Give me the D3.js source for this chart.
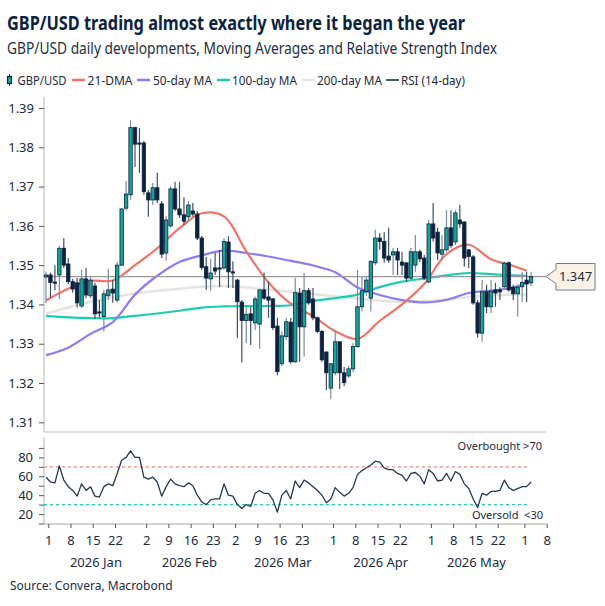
<!DOCTYPE html>
<html><head><meta charset="utf-8">
<script src="https://cdn.jsdelivr.net/npm/d3@7"></script>
<style>
body{margin:0;background:#fff}
svg{display:block}
text{font-family:"Noto Sans","Open Sans",sans-serif}
</style>
</head><body>
<svg id="c" width="605" height="606"></svg>
<script>
// ---------------- DATA ----------------
const startDate = "2026-01-01";           // first trading day (index 0)
const openP = [
1.3470,1.3475,1.3457,1.3475,1.3543,1.3503,1.3458,1.3455,1.3396,1.3465,
1.3422,1.3447,1.3381,1.3369,1.3422,1.3439,1.3411,1.3500,1.3645,1.3679,
1.3850,1.3811,1.3811,1.3684,1.3666,1.3697,1.3656,1.3531,1.3600,1.3694,
1.3643,1.3628,1.3623,1.3638,1.3630,1.3569,1.3496,1.3465,1.3493,1.3493,
1.3493,1.3559,1.3483,1.3462,1.3406,1.3359,1.3376,1.3353,1.3350,1.3437,
1.3419,1.3414,1.3345,1.3249,1.3318,1.3355,1.3254,1.3429,1.3343,1.3435,
1.3414,1.3366,1.3331,1.3279,1.3187,1.3226,1.3305,1.3226,1.3218,1.3236,
1.3293,1.3394,1.3433,1.3416,1.3506,1.3569,1.3560,1.3523,1.3526,1.3534,
1.3508,1.3506,1.3467,1.3500,1.3534,1.3518,1.3457,1.3605,1.3584,1.3528,
1.3539,1.3595,1.3559,1.3615,1.3610,1.3539,1.3521,1.3404,1.3327,1.3432,
1.3394,1.3437,1.3437,1.3445,1.3506,1.3444,1.3427,1.3445,1.3462,1.3455];
const highP = [
1.3484,1.3481,1.3500,1.3549,1.3569,1.3518,1.3465,1.3467,1.3488,1.3493,
1.3470,1.3455,1.3411,1.3437,1.3490,1.3462,1.3508,1.3645,1.3714,1.3869,
1.3852,1.3849,1.3816,1.3691,1.3709,1.3735,1.3663,1.3625,1.3701,1.3712,
1.3712,1.3673,1.3663,1.3658,1.3638,1.3574,1.3521,1.3516,1.3531,1.3539,
1.3569,1.3574,1.3509,1.3465,1.3411,1.3394,1.3394,1.3420,1.3439,1.3481,
1.3458,1.3416,1.3366,1.3331,1.3366,1.3366,1.3467,1.3442,1.3480,1.3442,
1.3442,1.3369,1.3335,1.3280,1.3251,1.3335,1.3305,1.3241,1.3243,1.3302,
1.3488,1.3470,1.3472,1.3513,1.3590,1.3582,1.3584,1.3595,1.3544,1.3544,
1.3534,1.3506,1.3544,1.3577,1.3539,1.3526,1.3615,1.3658,1.3595,1.3577,
1.3640,1.3640,1.3640,1.3653,1.3611,1.3539,1.3526,1.3411,1.3462,1.3450,
1.3462,1.3455,1.3444,1.3509,1.3509,1.3450,1.3450,1.3483,1.3483,1.3483];
const lowP = [
1.3403,1.3417,1.3437,1.3414,1.3493,1.3452,1.3430,1.3392,1.3391,1.3416,
1.3416,1.3363,1.3366,1.3331,1.3411,1.3404,1.3404,1.3498,1.3640,1.3666,
1.3750,1.3735,1.3679,1.3623,1.3653,1.3658,1.3518,1.3511,1.3595,1.3638,
1.3620,1.3602,1.3610,1.3623,1.3564,1.3488,1.3437,1.3435,1.3475,1.3444,
1.3488,1.3442,1.3442,1.3315,1.3252,1.3302,1.3297,1.3335,1.3287,1.3411,
1.3366,1.3335,1.3220,1.3243,1.3310,1.3249,1.3251,1.3254,1.3267,1.3399,
1.3360,1.3327,1.3254,1.3182,1.3159,1.3220,1.3185,1.3192,1.3213,1.3228,
1.3289,1.3382,1.3422,1.3382,1.3500,1.3539,1.3506,1.3506,1.3475,1.3475,
1.3475,1.3457,1.3462,1.3483,1.3508,1.3462,1.3455,1.3560,1.3513,1.3513,
1.3534,1.3544,1.3551,1.3595,1.3496,1.3493,1.3399,1.3315,1.3305,1.3378,
1.3378,1.3394,1.3411,1.3437,1.3432,1.3411,1.3369,1.3407,1.3406,1.3447];
const closeP = [
1.3475,1.3456,1.3456,1.3543,1.3500,1.3458,1.3439,1.3404,1.3465,1.3424,
1.3462,1.3376,1.3380,1.3427,1.3437,1.3429,1.3500,1.3643,1.3681,1.3850,
1.3808,1.3808,1.3687,1.3666,1.3697,1.3666,1.3528,1.3615,1.3694,1.3643,
1.3628,1.3612,1.3653,1.3630,1.3569,1.3494,1.3467,1.3480,1.3485,1.3492,
1.3560,1.3483,1.3481,1.3407,1.3359,1.3375,1.3359,1.3414,1.3437,1.3416,
1.3411,1.3341,1.3229,1.3320,1.3356,1.3254,1.3430,1.3343,1.3435,1.3404,
1.3366,1.3331,1.3259,1.3226,1.3249,1.3305,1.3226,1.3201,1.3236,1.3293,
1.3394,1.3435,1.3462,1.3509,1.3569,1.3560,1.3518,1.3513,1.3534,1.3513,
1.3500,1.3467,1.3534,1.3534,1.3516,1.3467,1.3605,1.3569,1.3531,1.3539,
1.3595,1.3550,1.3633,1.3605,1.3518,1.3522,1.3404,1.3327,1.3432,1.3394,
1.3434,1.3429,1.3432,1.3505,1.3437,1.3427,1.3444,1.3456,1.3452,1.3471];

// moving averages, read at these trading-day indices
const maIdx  = [0,5,10,15,20,25,30,35,40,45,50,55,60,65,70,75,80,85,90,95,100,105,108];
const ma21   = [1.3410,1.3440,1.3460,1.3461,1.3500,1.3543,1.3594,1.3632,1.3624,1.3535,1.3456,1.3402,1.3370,1.3332,1.3312,1.3358,1.3400,1.3452,1.3528,1.3552,1.3515,1.3498,1.3486];
const ma50   = [1.3271,1.3290,1.3325,1.3355,1.3425,1.3473,1.3508,1.3525,1.3537,1.3531,1.3522,1.3511,1.3499,1.3482,1.3443,1.3424,1.3411,1.3405,1.3412,1.3429,1.3435,1.3443,1.3456];
const ma100  = [1.3371,1.3367,1.3365,1.3365,1.3371,1.3377,1.3384,1.3392,1.3395,1.3396,1.3396,1.3398,1.3409,1.3416,1.3425,1.3444,1.3458,1.3466,1.3474,1.3480,1.3477,1.3474,1.3473];
const ma200  = [1.3376,1.3392,1.3407,1.3418,1.3428,1.3435,1.3440,1.3445,1.3447,1.3443,1.3438,1.3432,1.3426,1.3421,1.3415,1.3410,1.3407,1.3409,1.3412,1.3419,1.3423,1.3425,1.3425];

const rsi = [
59,54,53,71,56,49,45,39,52,45,
49,39,38,49,52,50,63,77,80,87,
80,80,59,57,59,54,39,49,57,52,
50,49,53,50,40,33,30,35,36,36,
52,40,39,30,26,30,28,42,45,42,
42,35,22,40,45,36,55,48,56,53,
49,45,40,32,36,48,43,39,42,48,
62,66,69,72,76,75,69,67,67,63,
61,55,63,64,60,52,67,63,55,56,
63,55,65,62,52,47,36,27,42,40,
44,44,45,56,48,45,47,49,49,54];

const priceTicks = [1.31,1.32,1.33,1.34,1.35,1.36,1.37,1.38,1.39];
const rsiTicks = [10,20,30,40,50,60,70,80,90];
const rsiLabelTicks = [20,40,60,80];
const dayTickDates = ["2026-01-01","2026-01-08","2026-01-15","2026-01-22","2026-02-02","2026-02-09","2026-02-16","2026-02-23",
  "2026-03-02","2026-03-09","2026-03-16","2026-03-23","2026-04-01","2026-04-08","2026-04-15","2026-04-22",
  "2026-05-01","2026-05-08","2026-05-15","2026-05-22","2026-06-01","2026-06-08"];
const monthStarts = ["2026-01-01","2026-02-02","2026-03-02","2026-04-01","2026-05-01","2026-06-01"];
const monthLabels = ["2026 Jan","2026 Feb","2026 Mar","2026 Apr","2026 May"];
const overbought = 70, oversold = 30;

// ---------------- HELPERS ----------------
const parse = d3.utcParse("%Y-%m-%d");
function bizIndex(s){
  const t0 = parse(startDate), t1 = parse(s);
  let n = 0;
  for (let d = new Date(t0); d < t1; d.setUTCDate(d.getUTCDate()+1)){
    const w = d.getUTCDay(); if (w !== 0 && w !== 6) n++;
  }
  return n;
}

const NAVY = "#0c2340", TEAL = "#17a599", TXT = "#1b2a41";
const C21 = "#ef7366", C50 = "#8b7cf2", C100 = "#1ecbb0", C200 = "#e4e4e4";

const svg = d3.select("#c");
const x  = d3.scaleLinear().domain([0,112]).range([46,544.4]);
const y  = d3.scaleLinear().domain([1.31,1.39]).range([422.3,108]);
const yR = d3.scaleLinear().domain([10,100]).range([523.5,438.5]);

// ---------------- TITLES ----------------
svg.append("text").attr("x",7).attr("y",30).attr("font-size",20).attr("font-weight",700)
  .attr("fill",NAVY).attr("textLength",458).attr("lengthAdjust","spacingAndGlyphs")
  .text("GBP/USD trading almost exactly where it began the year");
svg.append("text").attr("x",7).attr("y",54).attr("font-size",16.5).attr("fill","#1e2f45")
  .attr("textLength",490).attr("lengthAdjust","spacingAndGlyphs")
  .text("GBP/USD daily developments, Moving Averages and Relative Strength Index");

// ---------------- LEGEND ----------------
const lg = svg.append("g");
lg.append("line").attr("x1",9.5).attr("x2",9.5).attr("y1",74).attr("y2",86).attr("stroke",NAVY).attr("stroke-width",1);
lg.append("rect").attr("x",7.5).attr("y",76.5).attr("width",4).attr("height",7).attr("fill",TEAL).attr("stroke",NAVY).attr("stroke-width",1.2);
const legItems = [
  {t:"GBP/USD", tx:17.5, tl:49},
  {t:"21-DMA", c:C21, lx:72, tx:87.5, tl:45},
  {t:"50-day MA", c:C50, lx:137, tx:153, tl:59},
  {t:"100-day MA", c:C100, lx:217, tx:232, tl:65},
  {t:"200-day MA", c:C200, lx:302, tx:317, tl:65},
  {t:"RSI (14-day)", c:NAVY, lx:386, tx:401, tl:64, w:1.5}
];
legItems.forEach(d=>{
  if (d.c) lg.append("line").attr("x1",d.lx).attr("x2",d.lx+13).attr("y1",80).attr("y2",80)
    .attr("stroke",d.c).attr("stroke-width",d.w||2.5);
  lg.append("text").attr("x",d.tx).attr("y",84.5).attr("font-size",12.5).attr("fill",TXT)
    .attr("textLength",d.tl).attr("lengthAdjust","spacingAndGlyphs").text(d.t);
});

// ---------------- AXES FRAME ----------------
svg.append("line").attr("x1",44).attr("x2",44).attr("y1",97).attr("y2",432).attr("stroke","#cdcdcd").attr("stroke-width",1.5);
svg.append("line").attr("x1",44).attr("x2",546).attr("y1",432).attr("y2",432).attr("stroke","#d2d2d2").attr("stroke-width",1.5);
svg.append("line").attr("x1",44).attr("x2",44).attr("y1",437).attr("y2",524).attr("stroke","#cdcdcd").attr("stroke-width",1.5);
svg.append("line").attr("x1",44).attr("x2",547).attr("y1",524).attr("y2",524).attr("stroke","#c4c4c4").attr("stroke-width",1.5);

function styleAxis(g){
  g.select(".domain").remove();
  g.selectAll(".tick line").attr("stroke","#555").attr("stroke-width",1);
  g.selectAll(".tick text").attr("fill",TXT).attr("font-size",13)
    .style("font-family","'Noto Sans','Open Sans',sans-serif");
}
svg.append("g").attr("transform","translate(44,0)")
  .call(d3.axisLeft(y).tickValues(priceTicks).tickSize(5).tickPadding(5).tickFormat(d3.format(".2f")))
  .call(styleAxis);
svg.append("g").attr("transform","translate(44,0)")
  .call(d3.axisLeft(yR).tickValues(rsiTicks).tickSize(5).tickPadding(6)
    .tickFormat(d=>rsiLabelTicks.includes(d)?d:""))
  .call(styleAxis);

const tickIdx = dayTickDates.map(bizIndex);
const fmtDay = d3.utcFormat("%-d");
svg.append("g").attr("transform","translate(0,524)")
  .call(d3.axisBottom(x).tickValues(tickIdx.map(i=>i+0.5)).tickSize(4).tickPadding(8)
    .tickFormat((d,k)=>fmtDay(parse(dayTickDates[k]))))
  .call(styleAxis);

const mIdx = monthStarts.map(bizIndex);
monthLabels.forEach((m,k)=>{
  svg.append("text").attr("x",x((mIdx[k]+mIdx[k+1])/2)+1).attr("y",566.5)
    .attr("text-anchor","middle").attr("font-size",13).attr("fill",TXT).text(m);
});

// ---------------- MOVING AVERAGES ----------------
const maLine = d3.line().x(d=>x(d[0])).y(d=>y(d[1])).curve(d3.curveCatmullRom.alpha(0.5));
[[ma200,C200,2.6],[ma100,C100,2.2],[ma50,C50,2.2],[ma21,C21,2.2]].forEach(([arr,c,w])=>{
  svg.append("path").attr("d",maLine(maIdx.map((i,k)=>[i,arr[k]])))
    .attr("fill","none").attr("stroke",c).attr("stroke-width",w).attr("stroke-linejoin","round");
});

// last value line
const last = closeP[closeP.length-1];
svg.append("line").attr("x1",44).attr("x2",546).attr("y1",y(last)).attr("y2",y(last))
  .attr("stroke","#9a9a9a").attr("stroke-width",1.2);

// ---------------- CANDLES ----------------
const idx = d3.range(closeP.length);
const cg = svg.append("g");
cg.selectAll("line.w").data(idx).join("line")
  .attr("x1",i=>x(i)).attr("x2",i=>x(i))
  .attr("y1",i=>y(highP[i])).attr("y2",i=>y(lowP[i]))
  .attr("stroke",i=>closeP[i]>=openP[i]?"#7b8c9c":"#3c5066").attr("stroke-width",1.2);
cg.selectAll("rect").data(idx).join("rect")
  .attr("x",i=>x(i)-1.7).attr("width",3.4)
  .attr("y",i=>y(Math.max(openP[i],closeP[i])))
  .attr("height",i=>Math.max(1.2,Math.abs(y(openP[i])-y(closeP[i]))))
  .attr("fill",i=>closeP[i]>=openP[i]?TEAL:NAVY)
  .attr("stroke",NAVY).attr("stroke-width",0.8);

// callout
const yl = y(last);
svg.append("path")
  .attr("d",`M546,${yl} L556,${yl-7} L556,${yl-13} L595,${yl-13} L595,${yl+13.5} L556,${yl+13.5} L556,${yl+7} Z`)
  .attr("fill","#fdf2e6").attr("stroke","#6f7d8a").attr("stroke-width",1);
svg.append("text").attr("x",575.5).attr("y",yl+4.7).attr("text-anchor","middle")
  .attr("font-size",13).attr("fill",TXT).text(d3.format(".3f")(last));

// ---------------- RSI ----------------
svg.append("line").attr("x1",44).attr("x2",530).attr("y1",yR(overbought)).attr("y2",yR(overbought))
  .attr("stroke","#f08a80").attr("stroke-width",1.2).attr("stroke-dasharray","3,3");
svg.append("line").attr("x1",44).attr("x2",530).attr("y1",yR(oversold)).attr("y2",yR(oversold))
  .attr("stroke","#25c9c0").attr("stroke-width",1.2).attr("stroke-dasharray","3,3");
svg.append("path").attr("d",d3.line().x((d,i)=>x(i)).y(d=>yR(d))(rsi))
  .attr("fill","none").attr("stroke","#26384d").attr("stroke-width",1.3).attr("stroke-linejoin","round");
svg.append("text").attr("x",542).attr("y",450).attr("text-anchor","end").attr("font-size",11)
  .attr("fill",TXT).text("Overbought >70");
svg.append("text").attr("x",543).attr("y",518.5).attr("text-anchor","end").attr("font-size",11)
  .attr("fill",TXT).attr("xml:space","preserve").text("Oversold  <30");

// source
svg.append("text").attr("x",10).attr("y",590).attr("font-size",12).attr("fill",TXT)
  .text("Source: Convera, Macrobond");
</script>
</body></html>
